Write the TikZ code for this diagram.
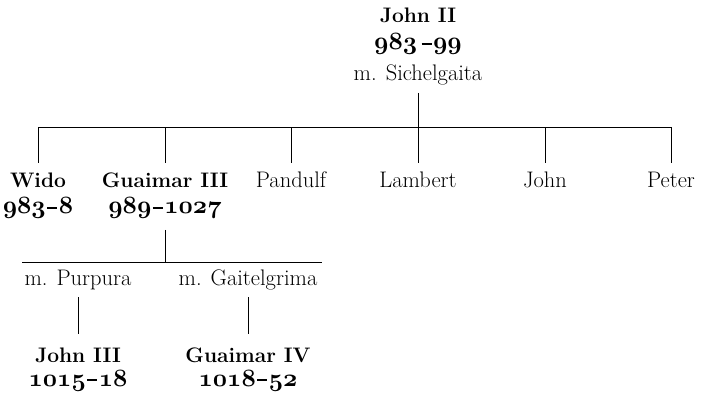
\documentclass[tikz,border=0pt]{standalone}
\newcommand\osn[1]{{\fontsize{23}{26}\usefont{OML}{cmm}{b}{it}#1}}
\newcommand\dsh{\kern1.5pt\rule[5pt]{10pt}{1.8pt}\kern1.5pt}
\begin{document}
\begin{tikzpicture}[x=1pt,y=-1pt,
  txt/.style={inner sep=0pt,anchor=base,font=\fontsize{22.5}{26}\selectfont},
  bold/.style={inner sep=0pt,anchor=base,font=\fontsize{21}{25}\selectfont\bfseries},
  ln/.style={line width=0.9pt}]
\useasboundingbox (0,0) rectangle (701,395);
% top
\node[bold] (j2) at (418,23) {John II};
\node[bold] (j2d) at (418,50) {\osn{983}\kern3pt\dsh\osn{99}};
\node[txt] (sich) at (418,81) {m. Sichelgaita};
\coordinate (bL) at (38,127);
\coordinate (bR) at (671,127);
\draw[ln] (bL) -- (bR);
\draw[ln] (sich.base) ++(0,12) -- (sich.base |- bL);
% children
\node[bold] (wido) at (38,188) {Wido};
\node[bold] (widod) at (38,214) {\osn{983}\dsh\osn{8}};
\node[bold] (g3) at (165,188) {Guaimar III};
\node[bold] (g3d) at (165,214) {\osn{989}\dsh\osn{1027}};
\node[txt] (pand) at (291,188) {Pandulf};
\node[txt] (lamb) at (418,188) {Lambert};
\node[txt] (john) at (545,188) {John};
\node[txt] (pete) at (671,188) {Peter};
\foreach \n in {wido,g3,pand,lamb,john,pete}{
  \draw[ln] (\n.base) ++(0,-25) -- (\n.base |- bL);
}
% Guaimar III descendants
\coordinate (cL) at (22,262);
\coordinate (cR) at (322,262);
\draw[ln] (cL) -- (cR);
\draw[ln] (g3d.base) ++(0,16) -- (g3d.base |- cL);
\node[txt] (purp) at (78,285) {m. Purpura};
\node[txt] (gait) at (248,285) {m. Gaitelgrima};
\node[bold] (j3) at (78,362) {John III};
\node[bold] (j3d) at (78,386) {\osn{1015}\dsh\osn{18}};
\node[bold] (g4) at (248,362) {Guaimar IV};
\node[bold] (g4d) at (248,386) {\osn{1018}\dsh\osn{52}};
\draw[ln] (purp.base) ++(0,12) -- ([yshift=28pt]j3.base);
\draw[ln] (gait.base) ++(0,12) -- ([yshift=28pt]g4.base);
\end{tikzpicture}
\end{document}
